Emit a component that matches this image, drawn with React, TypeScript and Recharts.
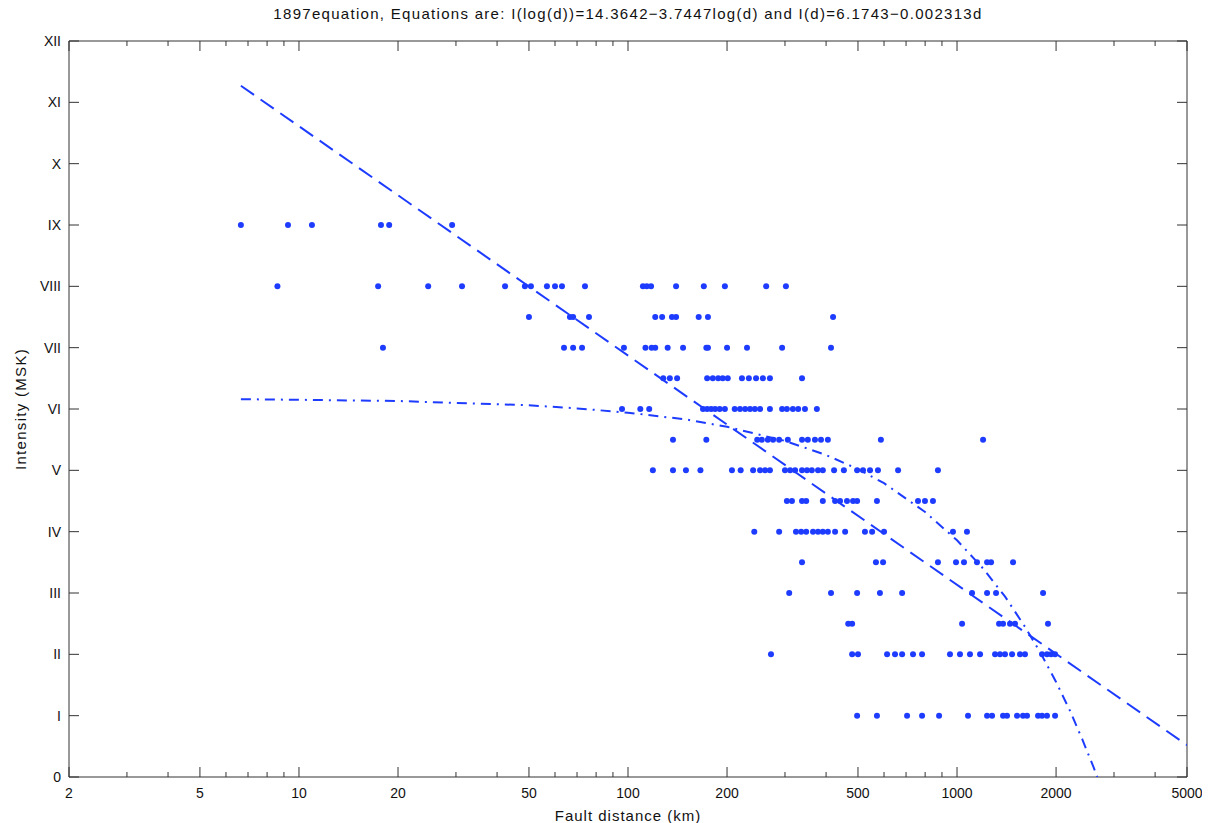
import React from "react";
import { ScatterChart, Scatter, XAxis, YAxis, ReferenceArea } from "recharts";

// distances (km) of the observations, one list per MSK intensity row
const distIX = [6.66, 9.26, 10.95, 17.75, 18.8, 29.2];
const distVIII = [8.6, 17.4, 24.7, 31.3, 42.3, 48.6, 50.7, 56.7, 60, 63, 74, 111, 114, 117.5, 140, 170, 197, 263, 302];
const distVII5 = [50, 66.6, 68.1, 76.1, 121, 127, 136, 140, 164, 175, 420];
const distVII = [18, 63.9, 68.1, 72.5, 97.2, 113, 118, 121, 132, 147, 173, 175, 200, 230, 294, 414];
const distVI5 = [128, 134, 141, 174, 181, 188, 194, 201, 222, 233, 245, 257, 270, 338];
const distVI = [95.9, 109, 116, 169, 174, 179, 184, 190, 197, 211, 219, 227, 235, 243, 252, 270, 294, 304, 317, 329, 345, 375];
const distV5 = [137, 173, 247, 255, 266, 276, 288, 306, 338, 352, 370, 386, 405, 587, 1200];
const distV = [119, 137, 150, 166, 207, 220, 240, 252, 261, 270, 300, 311, 322, 338, 350, 362, 378, 391, 423, 453, 497, 518, 544, 575, 662, 875];
const distIV5 = [304, 315, 338, 348, 391, 426, 441, 463, 483, 497, 571, 761, 799, 845];
const distIV = [242, 288, 324, 336, 348, 365, 378, 391, 405, 426, 457, 525, 552, 600, 972, 1072];
const distIII5 = [338, 567, 596, 875, 993, 1050, 1150, 1234, 1269, 1480];
const distIII = [309, 414, 497, 583, 681, 1111, 1234, 1314, 1826];
const distII5 = [467, 480, 1036, 1342, 1380, 1449, 1501, 1890];
const distII = [272, 480, 500, 613, 648, 681, 735, 783, 952, 1021, 1095, 1175, 1305, 1351, 1399, 1470, 1554, 1609, 1813, 1877, 1931, 1986];
const distI = [497, 571, 705, 783, 882, 1080, 1234, 1278, 1380, 1419, 1522, 1587, 1632, 1763, 1813, 1877, 1986];

const rowLevels = [9, 8, 7.5, 7, 6.5, 6, 5.5, 5, 4.5, 4, 3.5, 3, 2.5, 2, 1];
const rowDists = [distIX, distVIII, distVII5, distVII, distVI5, distVI, distV5, distV, distIV5, distIV, distIII5, distIII, distII5, distII, distI];

// I(log d) fit, straight on the log axis
const logFitD = [6.66, 5000];
const logFitI = [11.27, 0.52];

// I(d) fit
const linFitD = [6.66, 10, 20, 30, 50, 70, 100, 150, 200, 300, 400, 500, 600, 800, 1000, 1200, 1400, 1600, 1800, 2000, 2200, 2400, 2600, 2669];
const linFitI = [6.16, 6.15, 6.13, 6.1, 6.06, 6.01, 5.94, 5.83, 5.71, 5.48, 5.25, 5.02, 4.79, 4.32, 3.86, 3.4, 2.94, 2.47, 2.01, 1.55, 1.09, 0.62, 0.16, 0];

const xMajor = [2, 5, 10, 20, 50, 100, 200, 500, 1000, 2000, 5000];
const xMinor = [3, 4, 6, 7, 8, 9, 30, 40, 60, 70, 80, 90, 300, 400, 600, 700, 800, 900, 3000, 4000];
const yTicks = [0, 1, 2, 3, 4, 5, 6, 7, 8, 9, 10, 11, 12];
const yNames = ["0", "I", "II", "III", "IV", "V", "VI", "VII", "VIII", "IX", "X", "XI", "XII"];

const title =
  "1897equation, Equations are: I(log(d))=14.3642\u22123.7447log(d) and I(d)=6.1743\u22120.002313d";

const W = 1194;
const H = 815;
const margin = { top: 33, right: 15, bottom: 0, left: 0 };
const yAxisW = 61;
const xAxisH = 46;
const plotW = W - margin.left - margin.right - yAxisW;
const plotH = H - margin.top - margin.bottom - xAxisH;

const blue = "#1e3cff";
const font = "'Liberation Sans', Arial, sans-serif";

const points = rowLevels.flatMap((lvl, i) => rowDists[i].map((d) => ({ d, i: lvl })));
const logFit = logFitD.map((d, k) => ({ d, i: logFitI[k] }));
const linFit = linFitD.map((d, k) => ({ d, i: linFitI[k] }));
const xTicks = [...xMajor, ...xMinor].sort((a, b) => a - b);

const XTick = (props: any) => {
  const { x, y, payload } = props;
  const major = xMajor.includes(payload.value);
  const len = major ? 10 : 5;
  return (
    <g>
      <line x1={x} x2={x} y1={y} y2={y - len} stroke="#333" />
      <line x1={x} x2={x} y1={y - plotH} y2={y - plotH + len} stroke="#333" />
      {major && (
        <text x={x} y={y + 21} textAnchor="middle" fontSize={14} fill="#111" fontFamily={font}>
          {payload.value}
        </text>
      )}
    </g>
  );
};

const YTick = (props: any) => {
  const { x, y, payload } = props;
  return (
    <g>
      <line x1={x} x2={x + 10} y1={y} y2={y} stroke="#333" />
      <line x1={x + plotW} x2={x + plotW - 10} y1={y} y2={y} stroke="#333" />
      <text x={x - 8} y={y} dy="0.35em" textAnchor="end" fontSize={14} fill="#111" fontFamily={font}>
        {yNames[payload.value]}
      </text>
    </g>
  );
};

const Dot = (props: any) => <circle cx={props.cx} cy={props.cy} r={3} fill={blue} />;
const NoDot = () => <g />;

export default function App() {
  return (
    <div style={{ position: "relative", width: W, height: H, fontFamily: font }}>
      <div
        style={{
          position: "absolute",
          left: margin.left + yAxisW,
          width: plotW,
          top: -3,
          textAlign: "center",
          fontSize: 15,
          letterSpacing: 1.3,
          color: "#111",
          whiteSpace: "nowrap",
        }}
      >
        {title}
      </div>
      <ScatterChart width={W} height={H} margin={margin}>
        <XAxis
          dataKey="d"
          type="number"
          scale="log"
          domain={[2, 5000]}
          allowDataOverflow
          ticks={xTicks}
          interval={0}
          height={xAxisH}
          tickSize={0}
          tickMargin={0}
          tickLine={false}
          axisLine={false}
          tick={<XTick />}
        />
        <YAxis
          dataKey="i"
          type="number"
          domain={[0, 12]}
          allowDataOverflow
          ticks={yTicks}
          interval={0}
          width={yAxisW}
          tickSize={0}
          tickMargin={0}
          tickLine={false}
          axisLine={false}
          tick={<YTick />}
        />
        <ReferenceArea x1={2} x2={5000} y1={0} y2={12} fill="none" stroke="#333" strokeWidth={1} />
        <Scatter data={points} shape={<Dot />} isAnimationActive={false} />
        <Scatter
          data={logFit}
          shape={<NoDot />}
          line={{ stroke: blue, strokeWidth: 2, strokeDasharray: "16 8" }}
          lineType="joint"
          isAnimationActive={false}
        />
        <Scatter
          data={linFit}
          shape={<NoDot />}
          line={{ stroke: blue, strokeWidth: 2, strokeDasharray: "10 6 2 6" }}
          lineType="joint"
          isAnimationActive={false}
        />
      </ScatterChart>
      <div
        style={{
          position: "absolute",
          left: margin.left + yAxisW,
          width: plotW,
          top: 799,
          textAlign: "center",
          fontSize: 15,
          letterSpacing: 1,
          color: "#111",
        }}
      >
        Fault distance (km)
      </div>
      <div
        style={{
          position: "absolute",
          left: 12,
          top: margin.top + plotH / 2,
          transform: "translate(-50%, -50%) rotate(-90deg)",
          fontSize: 15,
          letterSpacing: 1.3,
          color: "#111",
          whiteSpace: "nowrap",
        }}
      >
        Intensity (MSK)
      </div>
    </div>
  );
}
